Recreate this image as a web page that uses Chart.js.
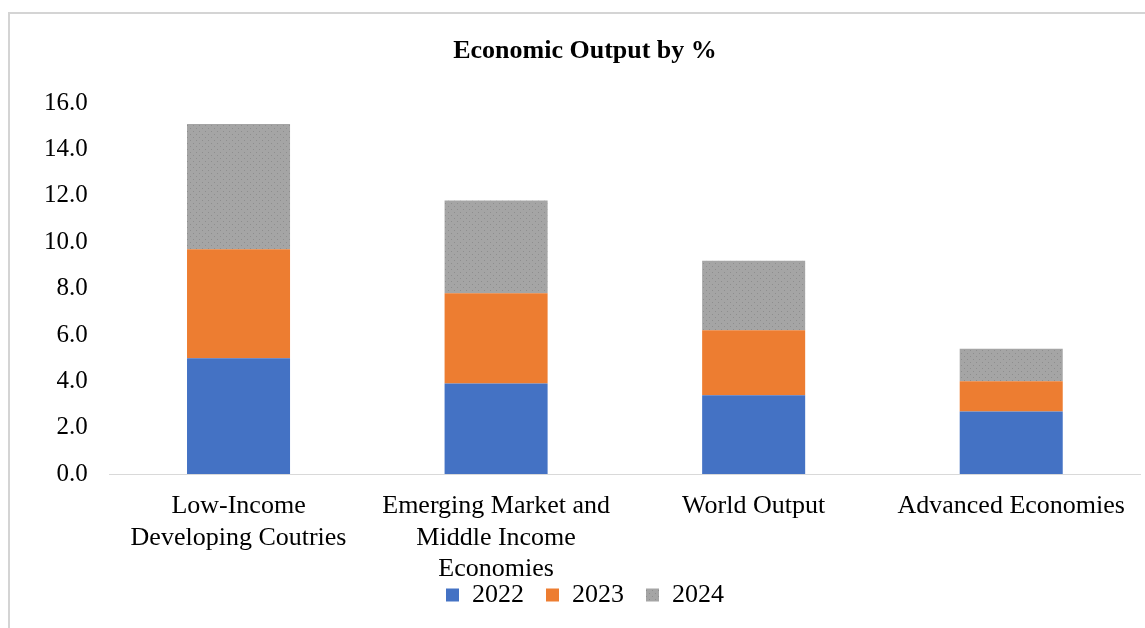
<!DOCTYPE html>
<html>
<head>
<meta charset="utf-8">
<script src="https://cdn.jsdelivr.net/npm/chart.js@4"></script>
<style>
  html, body { margin: 0; padding: 0; background: #fff; overflow: hidden; }
  #wrap { position: absolute; left: 8px; top: 12px; width: 1137px; height: 616px; border-left: 2px solid #d4d4d4; border-top: 2px solid #d4d4d4; }
  canvas { display: block; }
</style>
</head>
<body>
<div id="wrap"><canvas id="outputChart"></canvas></div>
<script>
const categories = [
    ['Low-Income', 'Developing Coutries'],
    ['Emerging Market and', 'Middle Income', 'Economies'],
    'World Output',
    'Advanced Economies'
];
const years = ['2022', '2023', '2024'];
const values2022 = [5.0, 3.9, 3.4, 2.7];
const values2023 = [4.7, 3.9, 2.8, 1.3];
const values2024 = [5.4, 4.0, 3.0, 1.4];

// dotted grey fill like the Excel pattern
function dottedGrey() {
    const c = document.createElement('canvas');
    c.width = 6; c.height = 6;
    const g = c.getContext('2d');
    g.fillStyle = '#a5a5a5';
    g.fillRect(0, 0, 6, 6);
    g.fillStyle = '#8e8e8e';
    g.fillRect(0, 0, 1, 1);
    g.fillRect(3, 3, 1, 1);
    return g.createPattern(c, 'repeat');
}

const serif = 'Liberation Serif';
const ctx = document.getElementById('outputChart').getContext('2d');
const outputChart = new Chart(ctx, {
    type: 'bar',
    data: {
        labels: categories,
        datasets: [
            { label: years[0], data: values2022, backgroundColor: '#4472c4' },
            { label: years[1], data: values2023, backgroundColor: '#ed7d31' },
            { label: years[2], data: values2024, backgroundColor: dottedGrey() }
        ]
    },
    options: {
        responsive: true,
        maintainAspectRatio: false,
        animation: false,
        datasets: { bar: { categoryPercentage: 1, barPercentage: 0.4 } },
        layout: { padding: { left: 20, right: 7, top: 0, bottom: 12 } },
        scales: {
            x: {
                stacked: true,
                grid: { display: false },
                border: { color: '#d9d9d9' },
                ticks: { color: '#000', font: { family: serif, size: 26 }, padding: 9, maxRotation: 0 },
                // squeeze the axis box so the 3rd label line runs into the legend band, like the original
                afterFit: (scale) => {
                    scale.height = 86;
                    scale._computeLabelArea = () => null;
                }
            },
            y: {
                stacked: true,
                min: 0,
                max: 16,
                grid: { display: false },
                border: { display: false },
                ticks: {
                    stepSize: 2,
                    color: '#000',
                    padding: 14,
                    font: { family: serif, size: 25 },
                    callback: (v) => v.toFixed(1)
                }
            }
        },
        plugins: {
            title: {
                display: true,
                text: 'Economic Output by %',
                color: '#000',
                font: { family: serif, size: 26, weight: 'bold' },
                padding: { top: 22, bottom: 36 }
            },
            legend: {
                position: 'bottom',
                labels: {
                    color: '#000',
                    font: { family: serif, size: 26 },
                    boxWidth: 13,
                    boxHeight: 13,
                    padding: 22
                }
            },
            tooltip: { enabled: false }
        }
    }
});
</script>
</body>
</html>
